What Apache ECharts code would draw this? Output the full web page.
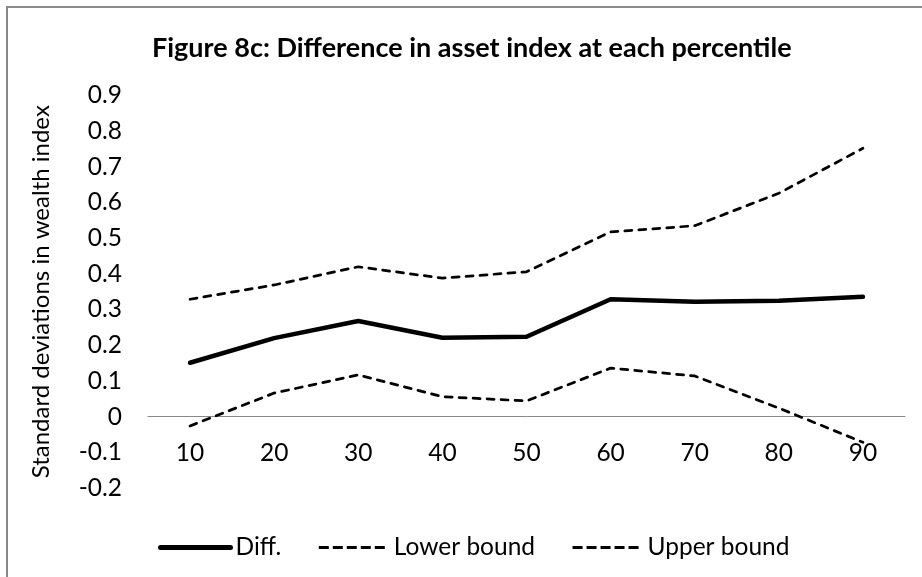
<!DOCTYPE html>
<html>
<head>
<meta charset="utf-8">
<title>Figure 8c</title>
<script src="https://cdn.jsdelivr.net/npm/echarts@6/dist/echarts.min.js"></script>
<style>
  html, body { margin: 0; padding: 0; background: #fff; }
  #chart { width: 922px; height: 577px; }
  .frame {
    position: absolute;
    left: 6px;
    top: 6px;
    width: 1000px;
    height: 1000px;
    border-left: 2px solid #888;
    border-top: 2px solid #8c8c8c;
    pointer-events: none;
  }
</style>
</head>
<body>
<div id="chart"></div>
<div class="frame"></div>
<script>
// percentiles
const percentiles = ['10', '20', '30', '40', '50', '60', '70', '80', '90']
// values
const diffValues = [0.151, 0.220, 0.268, 0.221, 0.224, 0.329, 0.322, 0.325, 0.336]
const lowerValues = [-0.026, 0.066, 0.117, 0.056, 0.044, 0.136, 0.114, 0.024, -0.072]
const upperValues = [0.329, 0.369, 0.420, 0.388, 0.406, 0.518, 0.535, 0.626, 0.752]

const fontFamily = 'Lato, "Open Sans", sans-serif'

const chart = echarts.init(document.getElementById('chart'))

function makeSeries(name, data, width, dashed) {
  return {
    name,
    data,
    type: 'line',
    symbol: 'none',
    showSymbol: false,
    animation: false,
    lineStyle: {
      color: '#000',
      width,
      type: dashed ? [7, 7] : 'solid',
      cap: 'round'
    },
    itemStyle: { color: '#000' }
  }
}

// legend icons: thick solid line, dashed lines
const legendDash = { width: 3, type: [10, 4], cap: 'butt' }

chart.setOption({
  backgroundColor: '#fff',
  title: {
    text: 'Figure 8c: Difference in asset index at each percentile',
    left: 147,
    top: 30,
    textStyle: {
      fontFamily,
      fontSize: 27,
      fontWeight: 'bold',
      color: '#000'
    }
  },
  grid: {
    left: 148,
    right: 17,
    top: 95.5,
    bottom: 89
  },
  legend: {
    bottom: 12,
    left: 153,
    itemWidth: 70,
    itemHeight: 14,
    itemGap: 36,
    itemStyle: { opacity: 0 },
    textStyle: {
      fontFamily,
      fontSize: 24.5,
      color: '#000'
    },
    data: [
      { name: 'Diff.', lineStyle: { width: 5, type: 'solid', cap: 'round' } },
      { name: 'Lower bound', lineStyle: legendDash },
      { name: 'Upper bound', lineStyle: legendDash }
    ]
  },
  xAxis: {
    type: 'category',
    data: percentiles,
    boundaryGap: true,
    axisLine: {
      onZero: true,
      lineStyle: { color: '#888', width: 1 }
    },
    axisTick: { show: false },
    axisLabel: {
      margin: -47,
      fontFamily,
      fontSize: 24.5,
      color: '#000'
    }
  },
  yAxis: {
    type: 'value',
    min: -0.2,
    max: 0.9,
    interval: 0.1,
    name: 'Standard deviations in wealth index',
    nameLocation: 'middle',
    nameRotate: 90,
    nameGap: 95,
    nameTextStyle: {
      fontFamily,
      fontSize: 24,
      color: '#000'
    },
    axisLine: { show: false },
    axisTick: { show: false },
    splitLine: { show: false },
    axisLabel: {
      margin: 26,
      fontFamily,
      fontSize: 24.5,
      color: '#000',
      formatter: (v) => String(Math.round(v * 10) / 10)
    }
  },
  series: [
    makeSeries('Diff.', diffValues, 4.5, false),
    makeSeries('Lower bound', lowerValues, 2.75, true),
    makeSeries('Upper bound', upperValues, 2.75, true)
  ]
})
</script>
</body>
</html>
